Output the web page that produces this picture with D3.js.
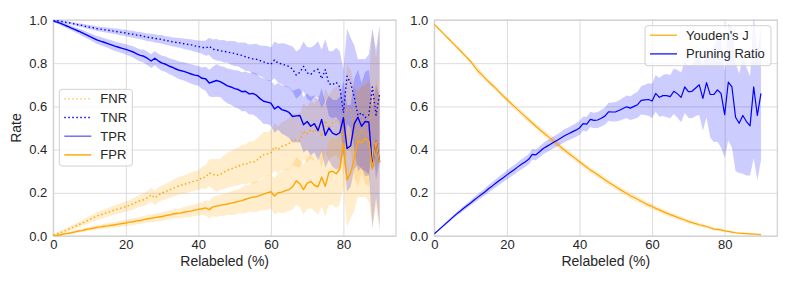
<!DOCTYPE html>
<html>
<head>
<meta charset="utf-8">
<script src="https://cdn.jsdelivr.net/npm/d3@7"></script>
<style>
body { margin: 0; background: #fff; }
text { font-family: "Liberation Sans", Arial, sans-serif; fill: #262626; }
</style>
</head>
<body>
<svg width="793" height="283"></svg>
<script>
var svg = d3.select("svg"),
    width = +svg.attr("width"),
    height = +svg.attr("height");

// relabeled percentage (x)
var relabeled = [0,1,2,3,4,5,6,7,8,9,10,11,12,13,14,15,16,17,18,19,20,21,22,23,24,25,26,27,28,29,
    30,31,32,33,34,35,36,37,38,39,40,41,42,43,44,45,46,47,48,49,50,51,52,53,54,55,56,57,58,59,
    60,61,62,63,64,65,66,67,68,69,70,71,72,73,74,75,76,77,78,79,80,81,82,83,84,85,86,87,88,89,90];

var xTicks = [0, 20, 40, 60, 80];
var yTicks = [0, 0.2, 0.4, 0.6, 0.8, 1.0];

// left panel
var tpr = [0.995,0.99,0.984,0.977,0.97,0.962,0.955,0.948,0.94,0.932,
    0.924,0.916,0.908,0.902,0.897,0.891,0.885,0.879,0.874,0.869,
    0.864,0.858,0.852,0.843,0.836,0.832,0.822,0.81,0.823,0.81,
    0.8,0.795,0.786,0.78,0.772,0.766,0.762,0.756,0.75,0.745,
    0.742,0.73,0.728,0.708,0.714,0.72,0.715,0.705,0.695,0.69,
    0.682,0.678,0.668,0.67,0.658,0.66,0.652,0.636,0.624,0.62,
    0.615,0.588,0.6,0.585,0.58,0.572,0.553,0.556,0.558,0.515,
    0.53,0.508,0.52,0.488,0.54,0.466,0.5,0.476,0.468,0.478,
    0.548,0.405,0.418,0.52,0.55,0.508,0.53,0.528,0.318,0.44,
    0.342];
var fnr = [0.005,0.01,0.016,0.023,0.03,0.038,0.045,0.052,0.06,0.068,
    0.076,0.084,0.092,0.098,0.103,0.109,0.115,0.121,0.126,0.131,
    0.136,0.142,0.148,0.157,0.164,0.168,0.178,0.19,0.177,0.19,
    0.2,0.205,0.214,0.22,0.228,0.234,0.238,0.244,0.25,0.255,
    0.258,0.27,0.272,0.292,0.286,0.28,0.285,0.295,0.305,0.31,
    0.318,0.322,0.332,0.33,0.342,0.34,0.348,0.364,0.376,0.38,
    0.385,0.412,0.4,0.415,0.42,0.428,0.447,0.444,0.442,0.485,
    0.47,0.492,0.48,0.512,0.46,0.534,0.5,0.524,0.532,0.522,
    0.452,0.595,0.582,0.48,0.45,0.492,0.47,0.472,0.682,0.56,
    0.658];
var tnr = [1.0,0.997,0.994,0.99,0.988,0.985,0.981,0.977,0.975,0.97,
    0.967,0.964,0.96,0.958,0.955,0.953,0.95,0.948,0.945,0.942,
    0.94,0.936,0.934,0.93,0.928,0.924,0.92,0.918,0.915,0.912,
    0.91,0.905,0.903,0.898,0.896,0.894,0.89,0.887,0.885,0.88,
    0.877,0.874,0.87,0.878,0.865,0.862,0.858,0.855,0.852,0.848,
    0.845,0.84,0.836,0.83,0.825,0.82,0.818,0.812,0.806,0.8,
    0.795,0.815,0.8,0.797,0.79,0.785,0.772,0.745,0.758,0.785,
    0.755,0.748,0.765,0.772,0.728,0.77,0.705,0.7,0.712,0.69,
    0.57,0.74,0.708,0.642,0.558,0.57,0.548,0.56,0.69,0.56,
    0.66];
var fpr = [0.0,0.003,0.006,0.01,0.012,0.015,0.019,0.023,0.025,0.03,
    0.033,0.036,0.04,0.042,0.045,0.047,0.05,0.052,0.055,0.058,
    0.06,0.064,0.066,0.07,0.072,0.076,0.08,0.082,0.085,0.088,
    0.09,0.095,0.097,0.102,0.104,0.106,0.11,0.113,0.115,0.12,
    0.123,0.126,0.13,0.122,0.135,0.138,0.142,0.145,0.148,0.152,
    0.155,0.16,0.164,0.17,0.175,0.18,0.182,0.188,0.194,0.2,
    0.205,0.185,0.2,0.203,0.21,0.215,0.228,0.255,0.242,0.215,
    0.245,0.252,0.235,0.228,0.272,0.23,0.295,0.3,0.288,0.31,
    0.43,0.26,0.292,0.358,0.442,0.43,0.452,0.44,0.31,0.44,
    0.34];
// std across runs (TPR/FNR share one, TNR/FPR share the other)
var tprStd = [0.004,0.006,0.008,0.009,0.01,0.011,0.012,0.013,0.014,0.015,
    0.016,0.017,0.018,0.019,0.02,0.02,0.021,0.022,0.022,0.023,
    0.024,0.025,0.026,0.027,0.028,0.03,0.031,0.032,0.033,0.034,
    0.035,0.036,0.037,0.038,0.04,0.041,0.042,0.043,0.045,0.046,
    0.045,0.05,0.056,0.062,0.07,0.075,0.072,0.078,0.08,0.082,
    0.085,0.088,0.09,0.092,0.095,0.098,0.1,0.1,0.105,0.102,
    0.105,0.11,0.108,0.112,0.115,0.118,0.12,0.122,0.125,0.128,
    0.13,0.135,0.132,0.14,0.145,0.15,0.148,0.155,0.16,0.165,
    0.17,0.2,0.19,0.21,0.22,0.2,0.23,0.24,0.28,0.26,
    0.3];
var tnrStd = [0.002,0.003,0.004,0.005,0.006,0.006,0.007,0.008,0.008,0.009,
    0.01,0.01,0.011,0.011,0.012,0.012,0.013,0.013,0.014,0.014,
    0.015,0.015,0.016,0.016,0.017,0.017,0.018,0.018,0.019,0.019,
    0.02,0.02,0.021,0.021,0.022,0.023,0.024,0.025,0.026,0.027,
    0.028,0.03,0.035,0.04,0.045,0.05,0.048,0.052,0.05,0.055,
    0.058,0.055,0.06,0.065,0.062,0.068,0.072,0.07,0.075,0.08,
    0.078,0.085,0.09,0.095,0.1,0.098,0.105,0.11,0.108,0.115,
    0.12,0.125,0.118,0.13,0.135,0.14,0.15,0.155,0.16,0.165,
    0.2,0.22,0.21,0.24,0.26,0.25,0.27,0.28,0.27,0.3,
    0.32];

// right panel
var youden = [0.98,0.963,0.946,0.929,0.912,0.895,0.878,0.861,0.843,0.826,
    0.808,0.786,0.765,0.748,0.731,0.714,0.698,0.682,0.665,0.648,
    0.632,0.616,0.6,0.585,0.569,0.554,0.538,0.523,0.508,0.493,
    0.479,0.465,0.452,0.438,0.424,0.41,0.396,0.383,0.37,0.357,
    0.344,0.331,0.318,0.305,0.295,0.284,0.272,0.26,0.249,0.238,
    0.228,0.217,0.207,0.197,0.186,0.178,0.17,0.161,0.152,0.143,
    0.137,0.128,0.121,0.113,0.106,0.099,0.093,0.086,0.08,0.074,
    0.068,0.062,0.057,0.052,0.048,0.044,0.038,0.032,0.031,0.028,
    0.024,0.021,0.018,0.015,0.013,0.012,0.011,0.01,0.009,0.008,
    0.006];
var youdenStd = [0.004,0.005,0.006,0.007,0.008,0.008,0.009,0.009,0.01,0.01,
    0.011,0.013,0.018,0.014,0.012,0.011,0.011,0.011,0.011,0.012,
    0.012,0.012,0.012,0.012,0.012,0.013,0.013,0.013,0.013,0.014,
    0.014,0.015,0.016,0.017,0.016,0.015,0.014,0.014,0.013,0.013,
    0.013,0.013,0.013,0.013,0.013,0.013,0.013,0.013,0.013,0.013,
    0.013,0.013,0.013,0.013,0.014,0.014,0.014,0.013,0.013,0.013,
    0.013,0.012,0.012,0.012,0.012,0.011,0.011,0.011,0.01,0.01,
    0.01,0.009,0.009,0.009,0.008,0.008,0.008,0.007,0.007,0.007,
    0.006,0.006,0.006,0.005,0.005,0.005,0.004,0.004,0.004,0.004,
    0.004];
var pruning = [0.01,0.025,0.04,0.055,0.07,0.085,0.1,0.113,0.127,0.14,
    0.153,0.167,0.18,0.192,0.205,0.22,0.232,0.245,0.258,0.27,
    0.283,0.295,0.307,0.32,0.332,0.343,0.355,0.378,0.376,0.39,
    0.405,0.415,0.425,0.435,0.444,0.455,0.465,0.473,0.482,0.49,
    0.5,0.52,0.518,0.54,0.535,0.537,0.545,0.555,0.575,0.574,
    0.575,0.582,0.59,0.598,0.592,0.6,0.608,0.628,0.63,0.632,
    0.625,0.66,0.642,0.65,0.65,0.645,0.67,0.658,0.642,0.69,
    0.668,0.67,0.685,0.7,0.637,0.71,0.656,0.655,0.676,0.66,
    0.562,0.712,0.69,0.55,0.522,0.558,0.53,0.51,0.69,0.558,
    0.66];
var pruningStd = [0.003,0.004,0.005,0.006,0.007,0.008,0.009,0.01,0.011,0.012,
    0.012,0.013,0.014,0.015,0.016,0.017,0.018,0.019,0.02,0.02,
    0.021,0.022,0.022,0.023,0.023,0.024,0.024,0.025,0.025,0.026,
    0.026,0.027,0.027,0.028,0.028,0.029,0.03,0.03,0.031,0.032,
    0.032,0.033,0.034,0.035,0.036,0.037,0.038,0.04,0.042,0.044,
    0.045,0.048,0.05,0.052,0.055,0.058,0.06,0.065,0.07,0.075,
    0.08,0.085,0.09,0.095,0.1,0.1,0.105,0.11,0.115,0.12,
    0.12,0.125,0.13,0.14,0.15,0.16,0.2,0.22,0.24,0.25,
    0.2,0.27,0.28,0.25,0.23,0.27,0.25,0.23,0.33,0.3,
    0.31];

var BLUE = "blue", ORANGE = "orange";
var top_ = 20, bottom = 236;

function makePanel(id, left, right) {
    var x = d3.scaleLinear().domain([0, 94.5]).range([left, right]);
    var y = d3.scaleLinear().domain([0, 1]).range([bottom, top_]);
    var g = svg.append("g").attr("id", id);

    g.append("clipPath").attr("id", id + "-clip")
        .append("rect")
        .attr("x", left).attr("y", top_)
        .attr("width", right - left).attr("height", bottom - top_);

    // grid + tick labels
    g.append("g")
        .attr("transform", "translate(0," + bottom + ")")
        .call(d3.axisBottom(x).tickValues(xTicks).tickFormat(d3.format("d"))
            .tickSize(-(bottom - top_)).tickPadding(4))
        .call(a => a.select(".domain").remove())
        .call(a => a.selectAll("line").attr("stroke", "#dcdcdc").attr("stroke-width", 1))
        .call(a => a.selectAll("text").attr("font-size", 13).attr("fill", "#262626"));

    g.append("g")
        .attr("transform", "translate(" + left + ",0)")
        .call(d3.axisLeft(y).tickValues(yTicks).tickFormat(d3.format(".1f"))
            .tickSize(-(right - left)).tickPadding(6))
        .call(a => a.select(".domain").remove())
        .call(a => a.selectAll("line").attr("stroke", "#dcdcdc").attr("stroke-width", 1))
        .call(a => a.selectAll("text").attr("font-size", 13).attr("fill", "#262626"));

    g.append("rect")
        .attr("x", left).attr("y", top_)
        .attr("width", right - left).attr("height", bottom - top_)
        .attr("fill", "none").attr("stroke", "#d0d0d0").attr("stroke-width", 1.2);

    g.append("text")
        .attr("x", (left + right) / 2).attr("y", 266)
        .attr("text-anchor", "middle").attr("font-size", 14)
        .text("Relabeled (%)");

    var plot = g.append("g").attr("clip-path", "url(#" + id + "-clip)");
    var bands = plot.append("g"), lines = plot.append("g");
    return { x: x, y: y, g: g, bands: bands, lines: lines };
}

function drawSeries(p, values, std, color, dash, lw) {
    var area = d3.area()
        .x((d, i) => p.x(relabeled[i]))
        .y0((d, i) => p.y(d - std[i]))
        .y1((d, i) => p.y(d + std[i]));
    p.bands.append("path")
        .attr("d", area(values))
        .attr("fill", color).attr("fill-opacity", 0.2);

    var line = d3.line()
        .x((d, i) => p.x(relabeled[i]))
        .y(d => p.y(d));
    p.lines.append("path")
        .attr("d", line(values))
        .attr("fill", "none")
        .attr("stroke", color)
        .attr("stroke-width", lw)
        .attr("stroke-dasharray", dash)
        .attr("stroke-linejoin", "round");
}

function drawLegend(g, x0, y0, w, h, items) {
    var lg = g.append("g");
    lg.append("rect")
        .attr("x", x0).attr("y", y0).attr("width", w).attr("height", h)
        .attr("rx", 3).attr("fill", "#fff").attr("fill-opacity", 0.8)
        .attr("stroke", "#d0d0d0").attr("stroke-width", 1);
    items.forEach((it, i) => {
        var cy = y0 + 9.5 + i * 18.7;
        lg.append("line")
            .attr("x1", x0 + 5).attr("x2", x0 + 32)
            .attr("y1", cy).attr("y2", cy)
            .attr("stroke", it.color).attr("stroke-width", it.lw)
            .attr("stroke-opacity", it.opacity || 1)
            .attr("stroke-dasharray", it.dash);
        lg.append("text")
            .attr("x", x0 + 41).attr("y", cy + 4.5)
            .attr("font-size", 13)
            .text(it.label);
    });
}

// ---- left: rates
var left = makePanel("rates", 53.3, 396);
drawSeries(left, fnr, tprStd, ORANGE, "1.5,2.5", 1.4);
drawSeries(left, tnr, tnrStd, BLUE, "1.5,2.5", 1.4);
drawSeries(left, tpr, tprStd, BLUE, null, 1.4);
drawSeries(left, fpr, tnrStd, ORANGE, null, 1.4);

left.g.append("text")
    .attr("transform", "translate(21," + ((top_ + bottom) / 2) + ") rotate(-90)")
    .attr("text-anchor", "middle").attr("font-size", 14)
    .text("Rate");

drawLegend(left.g, 59.3, 89.3, 73, 76.7, [
    { label: "FNR", color: ORANGE, dash: "1.5,2.5", lw: 1.4, opacity: 0.6 },
    { label: "TNR", color: BLUE, dash: "1.5,2.5", lw: 1.4 },
    { label: "TPR", color: BLUE, dash: null, lw: 1.4, opacity: 0.6 },
    { label: "FPR", color: ORANGE, dash: null, lw: 1.4 }
]);

// ---- right: Youden's J and pruning ratio
var right = makePanel("pruning", 434.3, 777.3);
drawSeries(right, youden, youdenStd, ORANGE, null, 1.2);
drawSeries(right, pruning, pruningStd, BLUE, null, 1.2);

drawLegend(right.g, 645, 25.7, 126, 40, [
    { label: "Youden's J", color: ORANGE, dash: null, lw: 1.2 },
    { label: "Pruning Ratio", color: BLUE, dash: null, lw: 1.2 }
]);
</script>
</body>
</html>
